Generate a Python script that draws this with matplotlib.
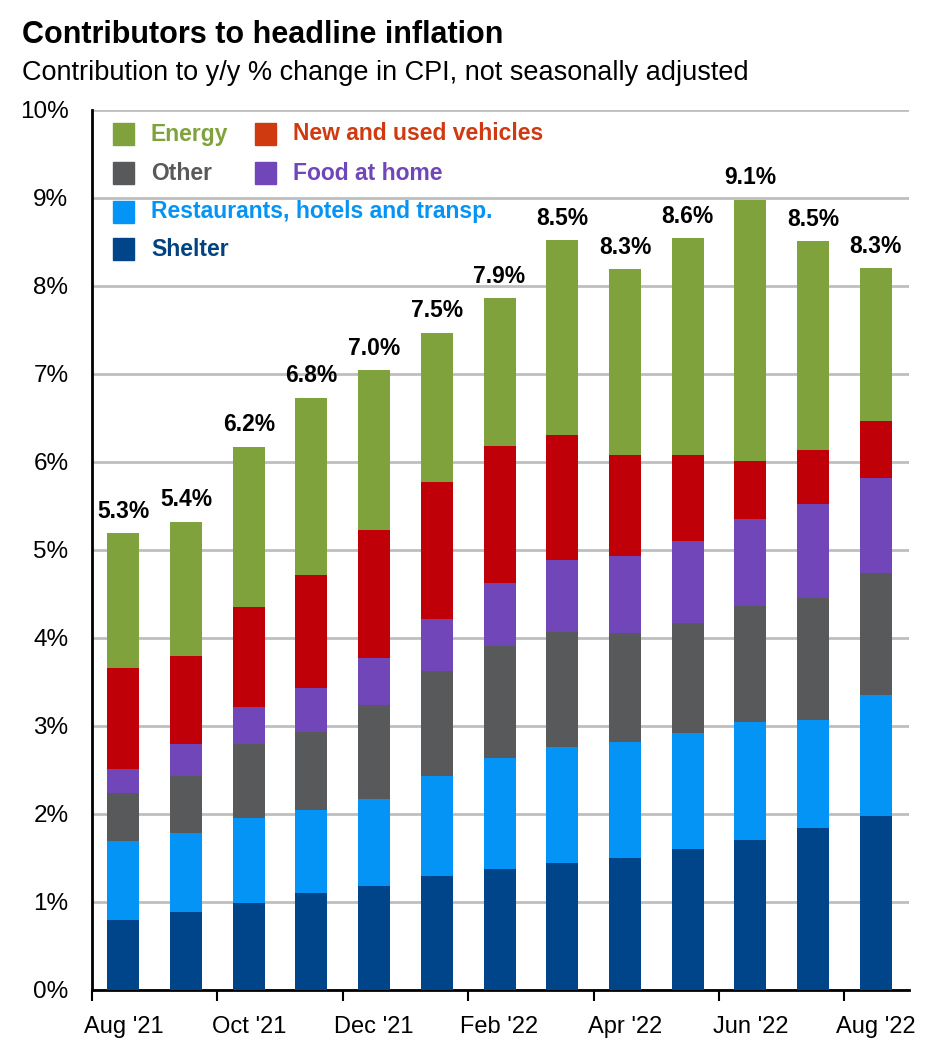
import matplotlib
matplotlib.use("Agg")
import matplotlib.pyplot as plt
from matplotlib.patches import Rectangle
import numpy as np

months = ["Aug '21", "Sep '21", "Oct '21", "Nov '21", "Dec '21", "Jan '22", "Feb '22",
          "Mar '22", "Apr '22", "May '22", "Jun '22", "Jul '22", "Aug '22"]
shelter = [0.80, 0.89, 0.99, 1.10, 1.18, 1.30, 1.37, 1.44, 1.50, 1.60, 1.71, 1.84, 1.98]
restaurants = [0.89, 0.89, 0.96, 0.94, 0.99, 1.13, 1.27, 1.32, 1.32, 1.32, 1.33, 1.23, 1.37]
other = [0.55, 0.65, 0.84, 0.89, 1.07, 1.19, 1.27, 1.31, 1.24, 1.25, 1.32, 1.38, 1.39]
food = [0.27, 0.36, 0.43, 0.50, 0.53, 0.60, 0.72, 0.82, 0.87, 0.93, 0.99, 1.07, 1.08]
vehicles = [1.15, 1.00, 1.13, 1.29, 1.46, 1.55, 1.55, 1.42, 1.15, 0.98, 0.66, 0.62, 0.65]
energy = [1.53, 1.53, 1.82, 2.01, 1.81, 1.70, 1.68, 2.21, 2.11, 2.46, 2.97, 2.37, 1.73]
headline_labels = ["5.3%", "5.4%", "6.2%", "6.8%", "7.0%", "7.5%", "7.9%",
                   "8.5%", "8.3%", "8.6%", "9.1%", "8.5%", "8.3%"]
yticks = [0, 1, 2, 3, 4, 5, 6, 7, 8, 9, 10]
ytick_labels = ["0%", "1%", "2%", "3%", "4%", "5%", "6%", "7%", "8%", "9%", "10%"]

series = [
    ("Shelter", shelter, "#00458A", "#00437F"),
    ("Restaurants, hotels and transp.", restaurants, "#0494F5", "#0494F5"),
    ("Other", other, "#58595B", "#58595B"),
    ("Food at home", food, "#7046B8", "#7046B8"),
    ("New and used vehicles", vehicles, "#C00008", "#D03A10"),
    ("Energy", energy, "#7FA23C", "#7FA23C"),
]

FONT = ["Liberation Sans", "DejaVu Sans"]
plt.rcParams['font.family'] = FONT

fig = plt.figure(figsize=(9.34, 10.56), dpi=100)
ax = fig.add_axes([92/934, 66/1056, (909-92)/934, (990-110)/1056])

x = np.arange(len(months))
bottom = np.zeros(len(months))
for name, vals, col, tcol in series:
    v = np.array(vals)
    ax.bar(x, v, bottom=bottom, width=0.51, color=col, edgecolor='none', zorder=3)
    bottom += v

for xi, top, lab in zip(x, bottom, headline_labels):
    ax.text(xi, top + 0.12, lab, ha='center', va='bottom', fontsize=16.5,
            fontweight='bold', color='black', zorder=4)

ax.set_xlim(-0.5, 12.53)
ax.set_ylim(0, 10)
ax.set_yticks(yticks)
ax.set_yticklabels(ytick_labels, fontsize=17.5)
ax.tick_params(axis='y', length=0, pad=17)
ax.yaxis.grid(True, color='#BEBEBE', linewidth=2, zorder=0)
ax.set_axisbelow(True)

ax.set_xticks(np.arange(-0.5, 12, 2))
ax.set_xticklabels([])
ax.tick_params(axis='x', which='major', length=8, width=1.5, direction='out')
ax.set_xticks(x[::2], minor=True)
ax.set_xticklabels(months[::2], minor=True, fontsize=17)
ax.tick_params(axis='x', which='minor', length=0, pad=19)

for s in ['top', 'right']:
    ax.spines[s].set_visible(False)
for s in ['left', 'bottom']:
    ax.spines[s].set_linewidth(2)
    ax.spines[s].set_color('black')

# Legend (manual layout)
leg = {n: (c, t) for n, _, c, t in series}
legend_items = [
    ("Energy", 113, 134), ("New and used vehicles", 255, 134),
    ("Other", 113, 173), ("Food at home", 255, 173),
    ("Restaurants, hotels and transp.", 113, 212), ("Shelter", 113, 249),
]
for name, px, py in legend_items:
    col, tcol = leg[name]
    if name == "New and used vehicles":
        col = "#D03A10"
    fig.patches.append(Rectangle((px/934, 1 - (py + 11)/1056), 21/934, 22/1056,
                                 transform=fig.transFigure, color=col, zorder=5))
    fig.text((px + 38)/934, 1 - py/1056, name, color=tcol, fontsize=16.5,
             fontweight='bold', ha='left', va='center')

fig.text(22/934, 1 - 35/1056, "Contributors to headline inflation", fontsize=22,
         fontweight='bold', ha='left', va='center')
fig.text(22/934, 1 - 73/1056, "Contribution to y/y % change in CPI, not seasonally adjusted",
         fontsize=19.5, ha='left', va='center')

fig.savefig("out.png", dpi=100)
